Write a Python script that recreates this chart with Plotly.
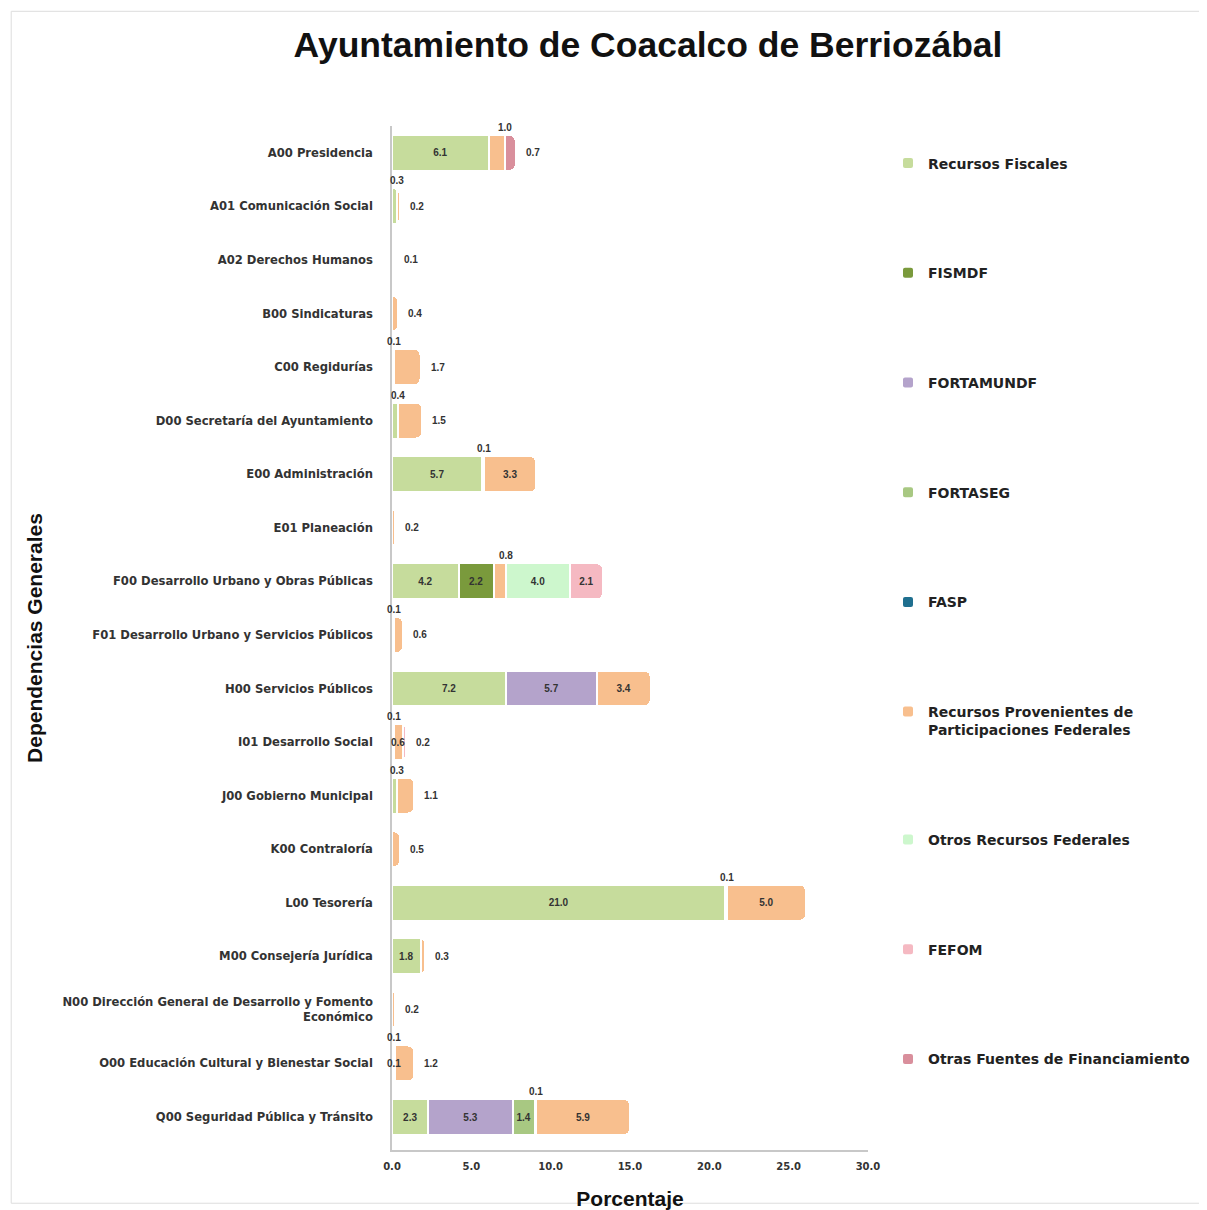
import plotly.graph_objects as go

categorias = [
    "A00 Presidencia", "A01 Comunicación Social", "A02 Derechos Humanos",
    "B00 Sindicaturas", "C00 Regidurías", "D00 Secretaría del Ayuntamiento",
    "E00 Administración", "E01 Planeación", "F00 Desarrollo Urbano y Obras Públicas",
    "F01 Desarrollo Urbano y Servicios Públicos", "H00 Servicios Públicos",
    "I01 Desarrollo Social", "J00 Gobierno Municipal", "K00 Contraloría",
    "L00 Tesorería", "M00 Consejería Jurídica",
    "N00 Dirección General de Desarrollo y Fomento<br>Económico",
    "O00 Educación Cultural y Bienestar Social", "Q00 Seguridad Pública y Tránsito",
]

recursos_fiscales = [6.1, 0.3, 0, 0, 0.1, 0.4, 5.7, 0, 4.2, 0.1, 7.2, 0.1, 0.3, 0, 21.0, 1.8, 0, 0.1, 2.3]
fismdf            = [0, 0, 0, 0, 0, 0, 0, 0, 2.2, 0, 0, 0, 0, 0, 0, 0, 0, 0, 0]
fortamundf        = [0, 0, 0, 0, 0, 0, 0, 0, 0, 0, 5.7, 0, 0, 0, 0, 0, 0, 0, 5.3]
fortaseg          = [0, 0, 0, 0, 0, 0, 0.1, 0, 0, 0, 0, 0, 0, 0, 0, 0, 0, 0, 1.4]
fasp              = [0, 0, 0, 0, 0, 0, 0, 0, 0, 0, 0, 0, 0, 0, 0.1, 0, 0, 0.1, 0.1]
participaciones   = [1.0, 0.2, 0.1, 0.4, 1.7, 1.5, 3.3, 0.2, 0.8, 0.6, 3.4, 0.6, 1.1, 0.5, 5.0, 0.3, 0.2, 1.2, 5.9]
otros_federales   = [0, 0, 0, 0, 0, 0, 0, 0, 4.0, 0, 0, 0, 0, 0, 0, 0, 0, 0, 0]
fefom             = [0, 0, 0, 0, 0, 0, 0, 0, 2.1, 0, 0, 0.2, 0, 0, 0, 0, 0, 0, 0]
otras_fuentes     = [0.7, 0, 0, 0, 0, 0, 0, 0, 0, 0, 0, 0, 0, 0, 0, 0, 0, 0, 0]

series = [
    ("Recursos Fiscales", recursos_fiscales, "#c6dc9c"),
    ("FISMDF", fismdf, "#7a9a3c"),
    ("FORTAMUNDF", fortamundf, "#b4a3cb"),
    ("FORTASEG", fortaseg, "#a8c882"),
    ("FASP", fasp, "#1f6f8f"),
    ("Recursos Provenientes de<br>Participaciones Federales", participaciones, "#f8bf8e"),
    ("Otros Recursos Federales", otros_federales, "#cdf7cd"),
    ("FEFOM", fefom, "#f5b9c2"),
    ("Otras Fuentes de Financiamiento", otras_fuentes, "#d98f9c"),
]

FONT = "Liberation Sans, Arial, sans-serif"
WIDE = "DejaVu Sans, Liberation Sans, sans-serif"
LBL = dict(size=10, color="#333", family=FONT)
fig = go.Figure()

n = len(categorias)
last_idx = []
for i in range(n):
    li = -1
    for k, (_, vals, _) in enumerate(series):
        if vals[i] > 0:
            li = k
    last_idx.append(li)

annotations = []
cum = [0.0] * n
prev_above = [None] * n
for k, (name, vals, color) in enumerate(series):
    texts = []
    for i in range(n):
        v = vals[i]
        start = cum[i]
        end = start + v
        t = ""
        if v > 0:
            is_last = (k == last_idx[i])
            if v >= 1.3 and (not is_last or v >= 2.0):
                t = f"{v:.1f}"
            elif is_last:
                annotations.append(dict(x=end, y=categorias[i], text=f"<b>{v:.1f}</b>",
                                        xanchor="left", yanchor="middle", xshift=8,
                                        showarrow=False, font=LBL))
            else:
                if prev_above[i] is not None and abs(end - prev_above[i]) < 0.8:
                    annotations.append(dict(x=(start + end) / 2, y=categorias[i], text=f"<b>{v:.1f}</b>",
                                            xanchor="center", yanchor="middle",
                                            showarrow=False, font=LBL))
                else:
                    annotations.append(dict(x=end, y=categorias[i], text=f"<b>{v:.1f}</b>",
                                            xanchor="center", yanchor="bottom", yshift=18,
                                            showarrow=False, font=LBL))
                    prev_above[i] = end
        texts.append(t)
        cum[i] = end
    fig.add_trace(go.Bar(
        y=categorias, x=vals, name=name, orientation="h",
        marker=dict(color=color, line=dict(color="white", width=2), cornerradius=6),
        text=texts, textposition="inside", insidetextanchor="middle", textangle=0,
        constraintext="none",
        textfont=dict(size=10, color="#333", family=FONT, weight="bold"),
        legendgroup=name, hoverinfo="x+name",
    ))

fig.update_layout(
    barmode="stack",
    bargap=0.33,
    width=1199, height=1202,
    paper_bgcolor="white", plot_bgcolor="white",
    margin=dict(l=384, r=339, t=118, b=60, autoexpand=False),
    font=dict(family=FONT, color="#222"),
    title=dict(text="<b>Ayuntamiento de Coacalco de Berriozábal</b>",
               x=640 / 1199, xanchor="center", y=1 - 37 / 1202, yanchor="middle",
               font=dict(size=35.5, color="#111", family=FONT)),
    xaxis=dict(range=[0, 30], dtick=5, tickformat=".1f", showgrid=False, zeroline=False,
               showline=True, linecolor="#c8c8c8", linewidth=1.5, automargin=False,
               tickfont=dict(size=10, color="#333", family=WIDE, weight="bold"),
               ticks="", ticklabelstandoff=6,
               title=dict(text="<b>Porcentaje</b>", font=dict(size=21, color="#111", family=FONT),
                          standoff=22)),
    yaxis=dict(autorange="reversed", showgrid=False, zeroline=False, automargin=False,
               showline=True, linecolor="#c8c8c8", linewidth=1.5,
               tickfont=dict(size=11.6, color="#333", family=WIDE, weight="bold"),
               ticks="", ticklabelstandoff=15,
               title=dict(text="<b>Dependencias Generales</b>",
                          font=dict(size=21, color="#111", family=FONT), standoff=14)),
    legend=dict(x=1.042, xanchor="left", y=0.979, yanchor="top",
                tracegroupgap=88.5, traceorder="grouped", valign="top",
                font=dict(size=14, color="#222", family=WIDE, weight="bold"),
                itemwidth=30, bgcolor="rgba(0,0,0,0)"),
    annotations=annotations,
    shapes=[dict(type="rect", xref="paper", yref="paper",
                 x0=-0.80, x1=1.70, y0=-0.052, y1=1.112,
                 line=dict(color="#dddddd", width=1), layer="below")],
)

fig.write_html("out.html")
